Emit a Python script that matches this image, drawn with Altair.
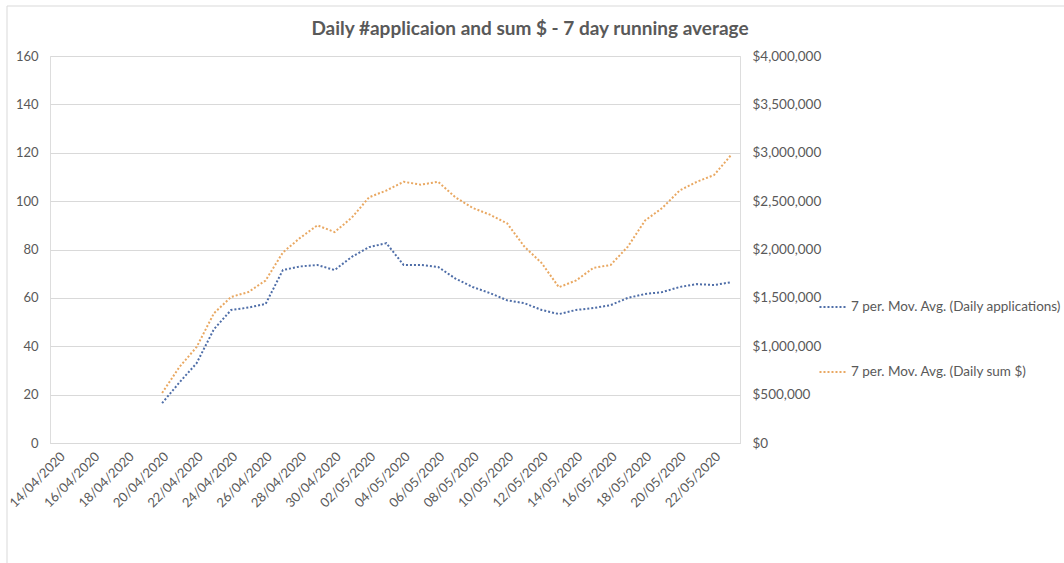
import altair as alt
import pandas as pd

dates = ["14/04/2020", "15/04/2020", "16/04/2020", "17/04/2020", "18/04/2020", "19/04/2020",
         "20/04/2020", "21/04/2020", "22/04/2020", "23/04/2020", "24/04/2020", "25/04/2020",
         "26/04/2020", "27/04/2020", "28/04/2020", "29/04/2020", "30/04/2020", "01/05/2020",
         "02/05/2020", "03/05/2020", "04/05/2020", "05/05/2020", "06/05/2020", "07/05/2020",
         "08/05/2020", "09/05/2020", "10/05/2020", "11/05/2020", "12/05/2020", "13/05/2020",
         "14/05/2020", "15/05/2020", "16/05/2020", "17/05/2020", "18/05/2020", "19/05/2020",
         "20/05/2020", "21/05/2020", "22/05/2020", "23/05/2020"]

# 7-day moving averages start on 20/04/2020
avg_dates = dates[6:]
apps_avg = [16.5, 25, 33, 47, 55, 56, 57.5, 71.5, 73, 73.6, 71.5, 77, 81, 82.6, 73.6, 73.6,
            72.8, 68, 64.5, 62, 59, 57.8, 55, 53.3, 55, 55.8, 57, 60, 61.6, 62.4, 64.5, 65.7,
            65.3, 66.5]
sum_avg = [517000, 785000, 992000, 1340000, 1510000, 1560000, 1680000, 1970000, 2120000,
           2250000, 2180000, 2330000, 2540000, 2610000, 2700000, 2670000, 2700000, 2540000,
           2430000, 2360000, 2270000, 2030000, 1860000, 1610000, 1680000, 1810000, 1840000,
           2030000, 2300000, 2430000, 2610000, 2700000, 2770000, 2980000]

series_names = ["7 per. Mov. Avg. (Daily applications)", "7 per. Mov. Avg. (Daily sum $)"]
series_colors = ["#4f6ea8", "#e9a862"]
left_ticks = [0, 20, 40, 60, 80, 100, 120, 140, 160]
right_ticks = [0, 500000, 1000000, 1500000, 2000000, 2500000, 3000000, 3500000, 4000000]

df_apps = pd.DataFrame({"date": avg_dates, "value": apps_avg, "series": series_names[0]})
df_sum = pd.DataFrame({"date": avg_dates, "value": sum_avg, "series": series_names[1]})
df_frame = pd.DataFrame({"frame": [1]})

FONT = "Lato"
TXT = "#595959"
GRID = "#d9d9d9"

xenc = alt.X("date:O", sort=dates,
             scale=alt.Scale(domain=dates, type="point", padding=0.5),
             axis=alt.Axis(values=dates[::2], labelAngle=-45, labelAlign="right",
                           labelBaseline="middle", labelPadding=11, labelOffset=4, ticks=False,
                           domainColor=GRID, labelFontSize=13, labelColor=TXT,
                           title=None, labelFont=FONT))

color = alt.Color("series:N",
                  scale=alt.Scale(domain=series_names, range=series_colors),
                  legend=alt.Legend(title=None, orient="none", legendX=768, legendY=236,
                                    symbolType="stroke", symbolDash=[2, 2],
                                    symbolStrokeWidth=2, symbolSize=730,
                                    labelFontSize=13.5, labelColor=TXT, labelFont=FONT,
                                    labelLimit=400, rowPadding=43, labelOffset=3,
                                    padding=0))

apps_line = alt.Chart(df_apps).mark_line(strokeWidth=2, strokeDash=[2, 2]).encode(
    x=xenc,
    y=alt.Y("value:Q", scale=alt.Scale(domain=[0, 160], nice=False),
            axis=alt.Axis(values=left_ticks, title=None, domain=False, ticks=False,
                          gridColor=GRID, labelPadding=12, labelFontSize=13,
                          labelColor=TXT, labelFont=FONT)),
    color=color,
)

sum_line = alt.Chart(df_sum).mark_line(strokeWidth=2, strokeDash=[2, 2]).encode(
    x=xenc,
    y=alt.Y("value:Q", scale=alt.Scale(domain=[0, 4000000], nice=False),
            axis=alt.Axis(values=right_ticks, format="$,.0f", orient="right", title=None,
                          domain=False, ticks=False, grid=False, labelPadding=12,
                          labelFontSize=13.5, labelColor=TXT, labelFont=FONT)),
    color=color,
)

# chart-area border (decoration)
frame = alt.Chart(df_frame).mark_rect(fill="transparent", stroke=GRID, strokeWidth=1).encode(
    x=alt.value(-43), x2=alt.value(1020), y=alt.value(-50), y2=alt.value(515)
)

chart = alt.layer(frame, apps_line, sum_line).resolve_scale(y="independent").properties(
    width=690,
    height=387,
    autosize=alt.AutoSizeParams(type="none"),
    padding={"left": 50, "top": 56, "right": 324, "bottom": 120},
    title=alt.TitleParams("Daily #applicaion and sum $ - 7 day running average",
                          anchor="middle", frame="group", dx=135, offset=-33,
                          fontSize=19, font=FONT, fontWeight="bold", color=TXT),
).configure_view(strokeWidth=0).configure(background="white")

chart.save("out.html", embed_options={"renderer": "svg", "actions": False})
